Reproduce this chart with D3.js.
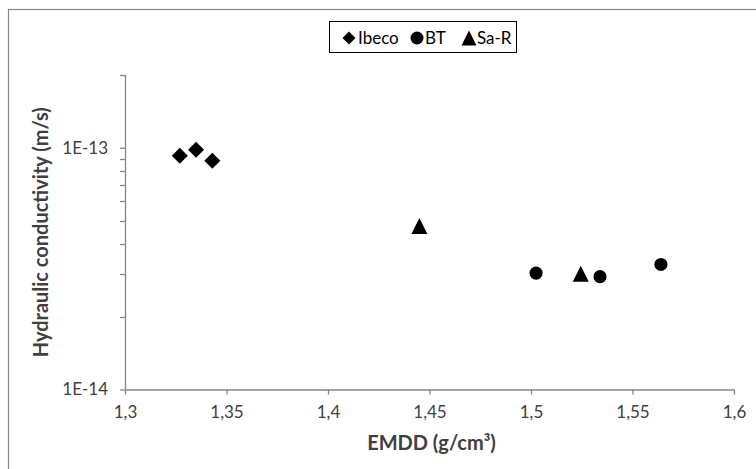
<!DOCTYPE html>
<html>
<head>
<meta charset="utf-8">
<script src="https://cdn.jsdelivr.net/npm/d3@7"></script>
<style>
  html, body { margin: 0; padding: 0; background: #fff; }
  svg { display: block; font-family: Lato, "Open Sans", sans-serif; }
</style>
</head>
<body>
<svg id="chart" width="756" height="469"></svg>
<script>
// EMDD (g/cm3) and hydraulic conductivity (m/s) per material
const seriesNames = ["Ibeco", "BT", "Sa-R"];
const ibecoEmdd = [1.327, 1.335, 1.343];
const ibecoK = [9.27e-14, 9.81e-14, 8.84e-14];
const btEmdd = [1.5025, 1.534, 1.564];
const btK = [3.03e-14, 2.93e-14, 3.29e-14];
const saREmdd = [1.445, 1.5245];
const saRK = [4.75e-14, 3.01e-14];

const xTickValues = [1.3, 1.35, 1.4, 1.45, 1.5, 1.55, 1.6];
const yMajorTicks = [1e-14, 1e-13];
const yMinorTicks = [2e-14, 3e-14, 4e-14, 5e-14, 6e-14, 7e-14, 8e-14, 9e-14, 2e-13];

const svg = d3.select("#chart");
const plot = { left: 125, right: 734, top: 75, bottom: 389.5 };

const axisColor = "#868686";
const labelColor = "#404040";

// outer chart frame
svg.append("rect")
  .attr("x", 8.5).attr("y", 9.5)
  .attr("width", 800).attr("height", 500)
  .attr("fill", "none").attr("stroke", "#888").attr("stroke-width", 1.2);

const x = d3.scaleLinear().domain([1.3, 1.6]).range([plot.left, plot.right]);
const y = d3.scaleLog().domain([1e-14, 2e-13]).range([plot.bottom, plot.top]);

const fmtX = v => d3.format(".2~f")(v).replace(".", ",");

// x axis
const xAxis = svg.append("g")
  .attr("transform", `translate(0,${plot.bottom})`)
  .call(d3.axisBottom(x).tickValues(xTickValues).tickFormat(fmtX).tickSizeInner(5).tickSizeOuter(0).tickPadding(11));

// y axis: major ticks labelled, minor ticks unlabelled
const yAxis = svg.append("g")
  .attr("transform", `translate(${plot.left},0)`)
  .call(d3.axisLeft(y).tickValues(yMajorTicks).tickFormat(d => d === 1e-13 ? "1E-13" : "1E-14").tickSizeInner(5).tickSizeOuter(0).tickPadding(12));

yAxis.selectAll(".minor")
  .data(yMinorTicks)
  .enter().append("line")
  .attr("class", "minor")
  .attr("x1", -5).attr("x2", 0)
  .attr("y1", d => Math.round(y(d)) + 0.5).attr("y2", d => Math.round(y(d)) + 0.5)
  .attr("stroke", axisColor);

// extend y axis to top of plot
yAxis.select(".domain").attr("d", `M0.5,${plot.top}V${plot.bottom}`);
xAxis.select(".domain").attr("d", `M${plot.left},0.5H${plot.right}`);

[xAxis, yAxis].forEach(g => {
  g.selectAll(".domain, line").attr("stroke", axisColor).attr("stroke-width", 1.3);
  g.selectAll("text").attr("fill", labelColor).attr("font-size", 17).attr("font-family", "Lato, sans-serif");
});

// axis titles
svg.append("text")
  .attr("x", (plot.left + plot.right) / 2 + 2).attr("y", 450)
  .attr("text-anchor", "middle")
  .attr("font-size", 20).attr("font-weight", "bold").attr("fill", labelColor)
  .text("EMDD (g/cm³)");

svg.append("text")
  .attr("transform", `translate(48,${(plot.top + plot.bottom) / 2}) rotate(-90)`)
  .attr("text-anchor", "middle")
  .attr("font-size", 20).attr("font-weight", "bold").attr("fill", labelColor)
  .text("Hydraulic conductivity (m/s)");

// marker shapes
const diamondType = {
  draw(ctx, size) {
    const r = Math.sqrt(size / 2);
    ctx.moveTo(0, -r); ctx.lineTo(r, 0); ctx.lineTo(0, r); ctx.lineTo(-r, 0); ctx.closePath();
  }
};
const triangleType = {
  draw(ctx, size) {
    const h = Math.sqrt(size * 2) / 2;
    ctx.moveTo(0, -h); ctx.lineTo(h, h); ctx.lineTo(-h, h); ctx.closePath();
  }
};

const series = [
  { name: seriesNames[0], xs: ibecoEmdd, ks: ibecoK, type: diamondType, size: 128 },
  { name: seriesNames[1], xs: btEmdd, ks: btK, type: d3.symbolCircle, size: 135 },
  { name: seriesNames[2], xs: saREmdd, ks: saRK, type: triangleType, size: 128 }
];

series.forEach(s => {
  const sym = d3.symbol().type(s.type).size(s.size);
  svg.append("g").selectAll("path")
    .data(s.xs.map((v, i) => [v, s.ks[i]]))
    .enter().append("path")
    .attr("d", sym)
    .attr("transform", d => `translate(${x(d[0])},${y(d[1])})`)
    .attr("fill", "#000");
});

// legend
const legend = svg.append("g");
legend.append("rect")
  .attr("x", 329.5).attr("y", 21.5).attr("width", 187).attr("height", 31)
  .attr("fill", "#fff").attr("stroke", "#000").attr("stroke-width", 1);

const legendItems = [
  { name: seriesNames[0], type: diamondType, size: 84, mx: 349, tx: 358 },
  { name: seriesNames[1], type: d3.symbolCircle, size: 133, mx: 417, tx: 425 },
  { name: seriesNames[2], type: triangleType, size: 112, mx: 469, tx: 477 }
];
legendItems.forEach(it => {
  legend.append("path")
    .attr("d", d3.symbol().type(it.type).size(it.size))
    .attr("transform", `translate(${it.mx},38)`)
    .attr("fill", "#000");
  legend.append("text")
    .attr("x", it.tx).attr("y", 38).attr("dy", "0.36em")
    .attr("font-size", 17).attr("fill", "#000")
    .text(it.name);
});
</script>
</body>
</html>
